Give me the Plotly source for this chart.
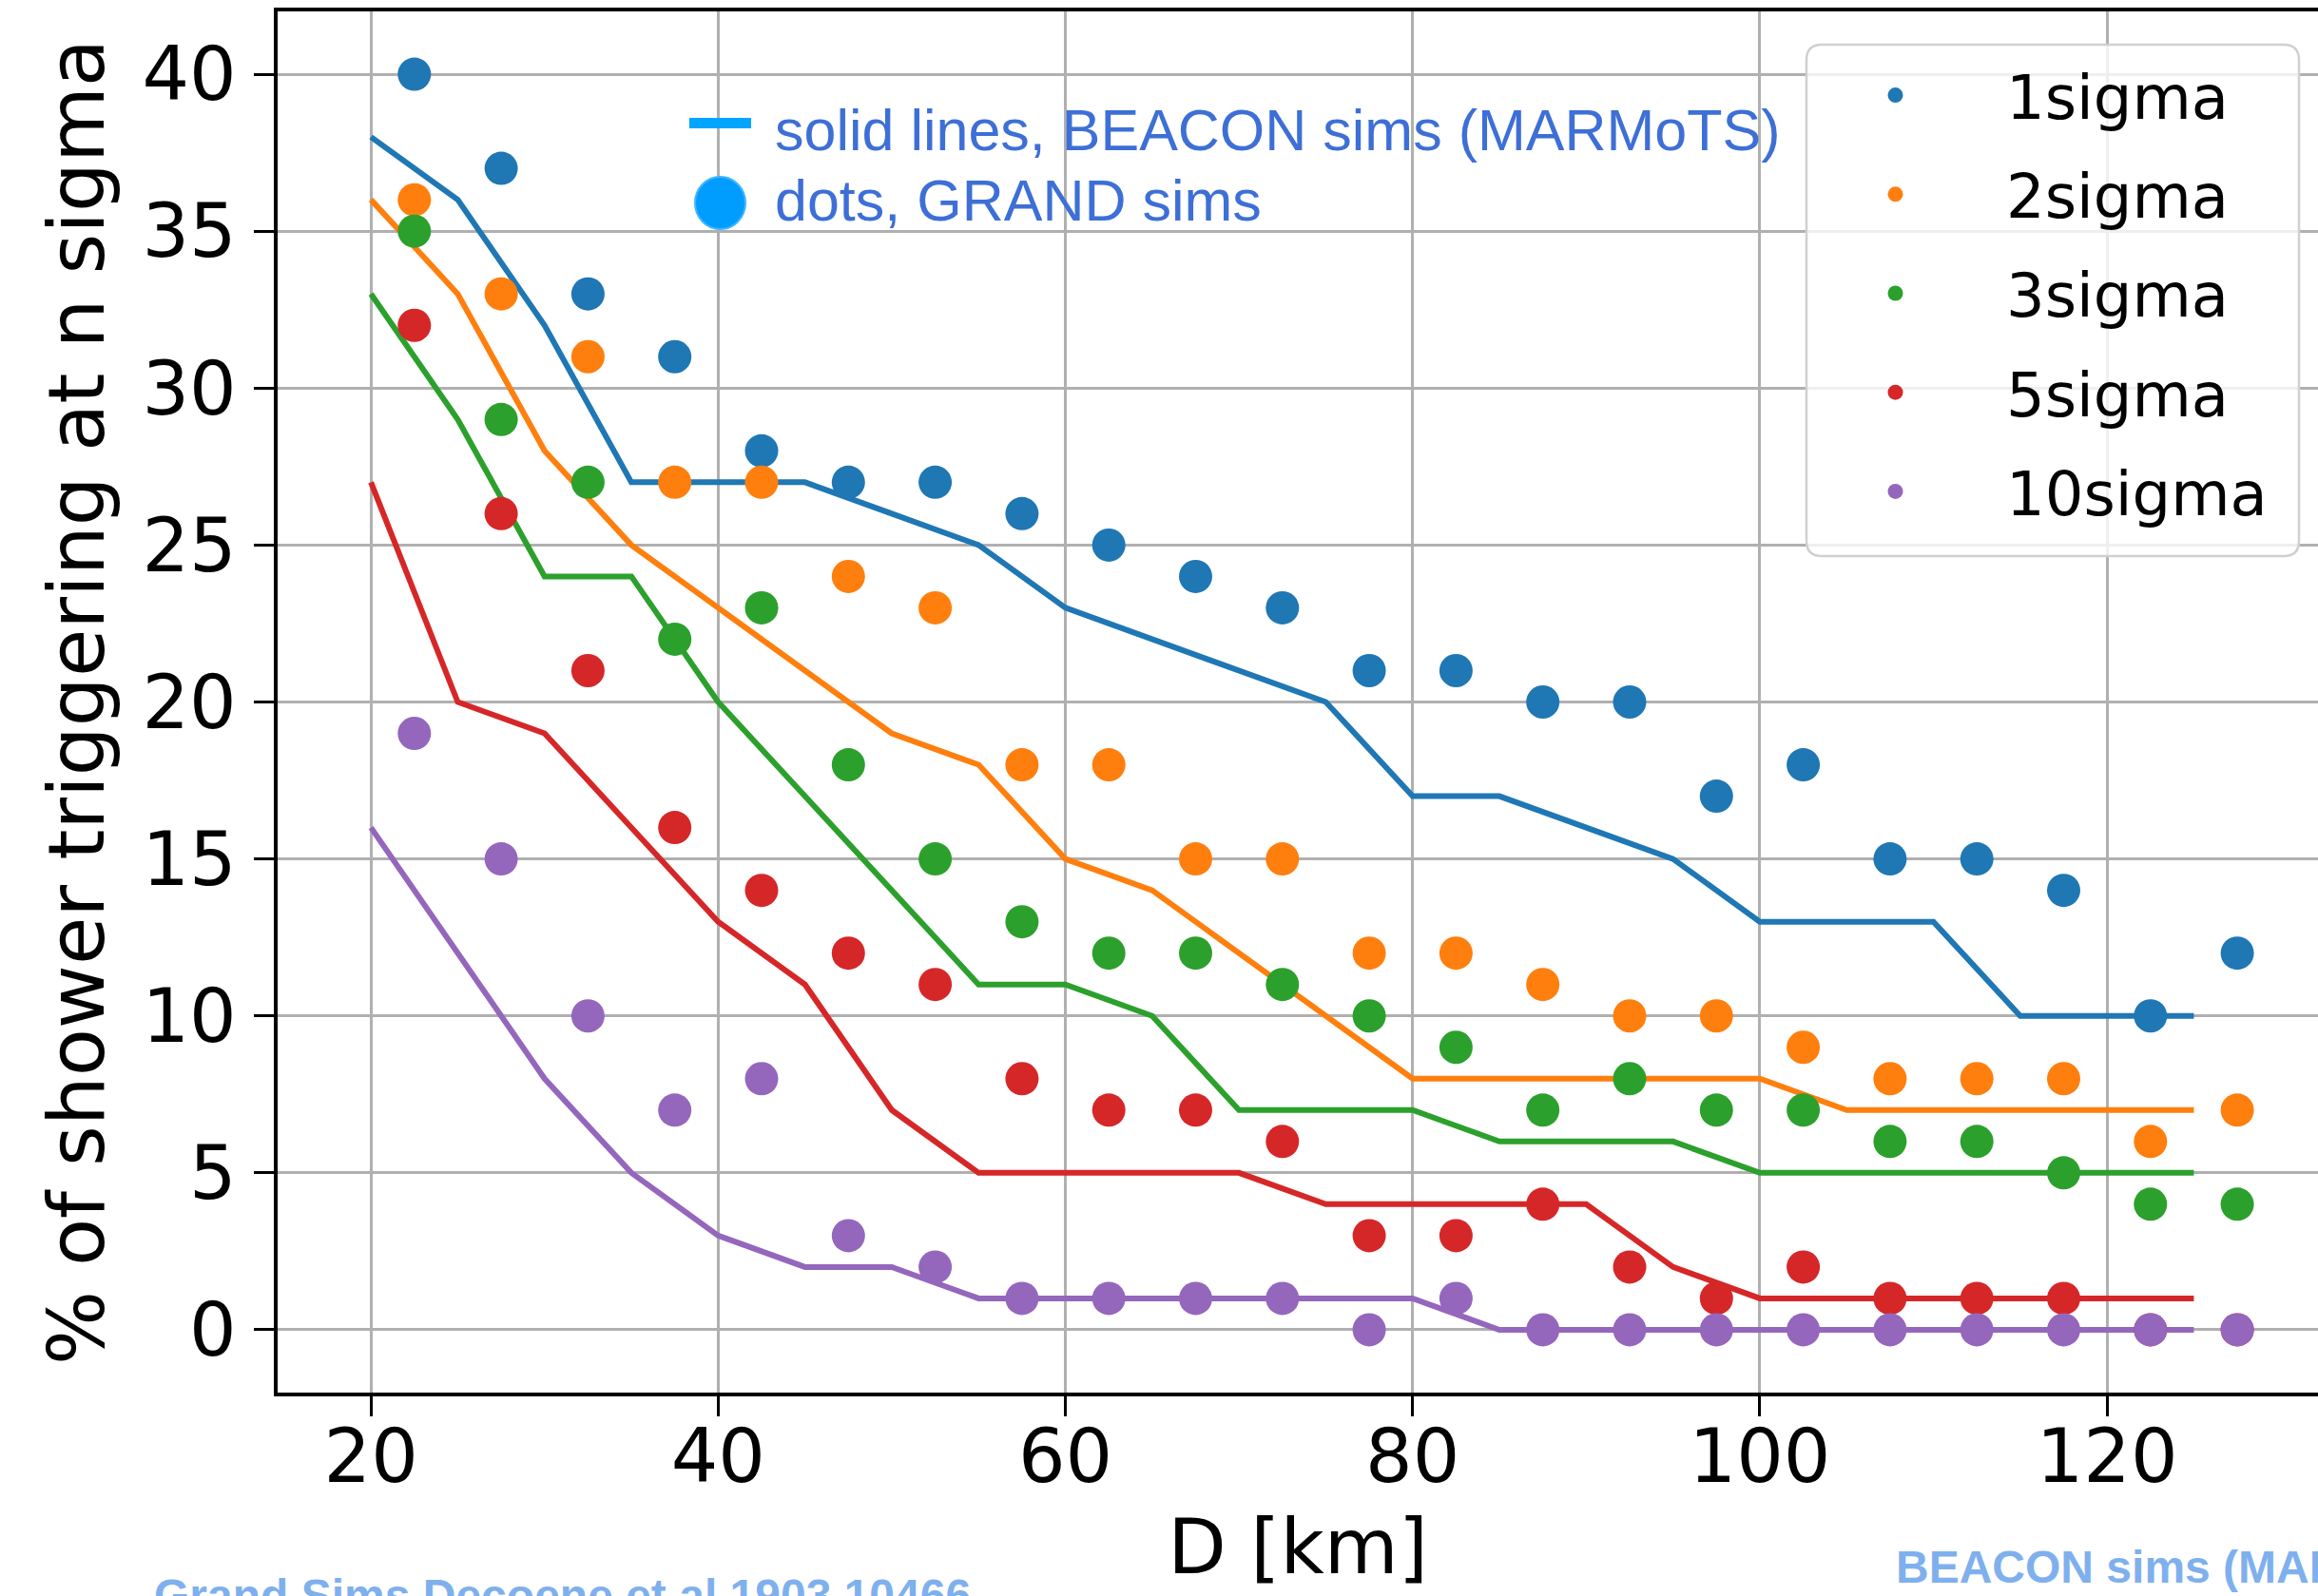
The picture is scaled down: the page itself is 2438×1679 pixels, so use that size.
import plotly.graph_objects as go

# ---------------- data ----------------
D_dots = [22.5, 27.5, 32.5, 37.5, 42.5, 47.5, 52.5, 57.5, 62.5, 67.5, 72.5,
          77.5, 82.5, 87.5, 92.5, 97.5, 102.5, 107.5, 112.5, 117.5, 122.5, 127.5]
D_lines = [20, 25, 30, 35, 40, 45, 50, 55, 60, 65, 70,
           75, 80, 85, 90, 95, 100, 105, 110, 115, 120, 125]

series_names = ["1sigma", "2sigma", "3sigma", "5sigma", "10sigma"]
series_colors = ["#1f77b4", "#ff7f0e", "#2ca02c", "#d62728", "#9467bd"]

# GRAND sims (dots)
grand_1sigma = [40, 37, 33, 31, 28, 27, 27, 26, 25, 24, 23, 21, 21, 20, 20, 17, 18, 15, 15, 14, 10, 12]
grand_2sigma = [36, 33, 31, 27, 27, 24, 23, 18, 18, 15, 15, 12, 12, 11, 10, 10, 9, 8, 8, 8, 6, 7]
grand_3sigma = [35, 29, 27, 22, 23, 18, 15, 13, 12, 12, 11, 10, 9, 7, 8, 7, 7, 6, 6, 5, 4, 4]
grand_5sigma = [32, 26, 21, 16, 14, 12, 11, 8, 7, 7, 6, 3, 3, 4, 2, 1, 2, 1, 1, 1, 0, 0]
grand_10sigma = [19, 15, 10, 7, 8, 3, 2, 1, 1, 1, 1, 0, 1, 0, 0, 0, 0, 0, 0, 0, 0, 0]

# BEACON sims (MARMoTS) (solid lines)
beacon_1sigma = [38, 36, 32, 27, 27, 27, 26, 25, 23, 22, 21, 20, 17, 17, 16, 15, 13, 13, 13, 10, 10, 10]
beacon_2sigma = [36, 33, 28, 25, 23, 21, 19, 18, 15, 14, 12, 10, 8, 8, 8, 8, 8, 7, 7, 7, 7, 7]
beacon_3sigma = [33, 29, 24, 24, 20, 17, 14, 11, 11, 10, 7, 7, 7, 6, 6, 6, 5, 5, 5, 5, 5, 5]
beacon_5sigma = [27, 20, 19, 16, 13, 11, 7, 5, 5, 5, 5, 4, 4, 4, 4, 2, 1, 1, 1, 1, 1, 1]
beacon_10sigma = [16, 12, 8, 5, 3, 2, 2, 1, 1, 1, 1, 1, 1, 0, 0, 0, 0, 0, 0, 0, 0, 0]

grand = [grand_1sigma, grand_2sigma, grand_3sigma, grand_5sigma, grand_10sigma]
beacon = [beacon_1sigma, beacon_2sigma, beacon_3sigma, beacon_5sigma, beacon_10sigma]

x_ticks = [20, 40, 60, 80, 100, 120]
y_ticks = [0, 5, 10, 15, 20, 25, 30, 35, 40]

# ---------------- layout geometry (pixels) ----------------
W, H = 2438, 1679
L, R, T, B = 292, 0, 12, 214
PW, PH = W - L - R, H - T - B


def px(x):
    return (x - L) / PW


def py(y):
    return (H - B - y) / PH


fig = go.Figure()

for name, col, ys in zip(series_names, series_colors, beacon):
    fig.add_trace(go.Scatter(x=D_lines, y=ys, mode="lines", name=name + " (BEACON)",
                             line=dict(color=col, width=6), showlegend=False,
                             hoverinfo="skip"))

for i, (name, col, ys) in enumerate(zip(series_names, series_colors, grand)):
    fig.add_trace(go.Scatter(x=D_dots, y=ys, mode="markers", name=name,
                             marker=dict(color=col, size=35, line=dict(width=0)),
                             legendgroup="g%d" % i))

tick_font = dict(family="DejaVu Sans", size=78, color="black")

fig.update_xaxes(range=[14.625, 132.15], tickvals=x_ticks, ticktext=[str(v) for v in x_ticks],
                 showgrid=True, gridcolor="#b0b0b0", gridwidth=2.5,
                 showline=True, linecolor="black", linewidth=3.5, mirror=True,
                 ticks="outside", ticklen=21, tickwidth=3, tickcolor="black",
                 tickfont=tick_font, zeroline=False, ticklabelstandoff=-24,
                 title=dict(text="D [km]", font=dict(family="DejaVu Sans", size=80, color="black"),
                            standoff=24))
fig.update_yaxes(range=[-2, 42], tickvals=y_ticks, ticktext=[str(v) for v in y_ticks],
                 showgrid=True, gridcolor="#b0b0b0", gridwidth=2.5,
                 showline=True, linecolor="black", linewidth=3.5, mirror=False,
                 ticks="outside", ticklen=21, tickwidth=3, tickcolor="black",
                 tickfont=tick_font, zeroline=False, ticklabelstandoff=3,
                 title=dict(text="% of shower triggering at n sigma",
                            font=dict(family="DejaVu Sans", size=82, color="black"),
                            standoff=14))

# legend frame (rounded box) drawn as a shape
bx0, bx1, by0, by1 = px(1900), px(2418), py(585), py(47)
rx, ry = 16 / PW, 16 / PH
path = (f"M {bx0+rx},{by1} L {bx1-rx},{by1} Q {bx1},{by1} {bx1},{by1-ry} "
        f"L {bx1},{by0+ry} Q {bx1},{by0} {bx1-rx},{by0} L {bx0+rx},{by0} "
        f"Q {bx0},{by0} {bx0},{by0+ry} L {bx0},{by1-ry} Q {bx0},{by1} {bx0+rx},{by1} Z")
shapes = [
    dict(type="path", xref="paper", yref="paper", path=path,
         fillcolor="rgba(255,255,255,0.8)", line=dict(color="#d0d0d0", width=2.5), layer="above"),
    # key: solid line sample
    dict(type="rect", xref="paper", yref="paper", x0=px(725), x1=px(790), y0=py(135), y1=py(124),
         fillcolor="#00a5ff", line=dict(width=0), layer="above"),
    # key: dot sample
    dict(type="circle", xref="paper", yref="paper", x0=px(731), x1=px(784), y0=py(241), y1=py(186),
         fillcolor="#009dff", line=dict(color="#3fb6ff", width=2), layer="above"),
]

ann_font = dict(family="Liberation Sans, Arial, sans-serif", size=61, color="#3d6fd6")
foot_family = "Liberation Sans, Arial, sans-serif"
annotations = [
    dict(text="solid lines, BEACON sims (MARMoTS)", x=px(813), y=py(137), xref="paper", yref="paper",
         xanchor="left", yanchor="middle", showarrow=False, font=ann_font),
    dict(text="dots, GRAND sims", x=px(813), y=py(211), xref="paper", yref="paper",
         xanchor="left", yanchor="middle", showarrow=False, font=ann_font),
    dict(text="<b>Grand Sims Decoene et al 1903.10466</b>", x=px(160), y=py(1678), xref="paper",
         yref="paper", xanchor="left", yanchor="middle", showarrow=False,
         font=dict(family=foot_family, size=48, color="#7fb0ee")),
    dict(text="<b>BEACON sims (MARMoTS)</b>", x=px(1992), y=py(1648), xref="paper",
         yref="paper", xanchor="left", yanchor="middle", showarrow=False,
         font=dict(family=foot_family, size=48, color="#7fb0ee")),
]

fig.update_layout(
    width=W, height=H,
    margin=dict(l=L, r=R, t=T, b=B, pad=0),
    paper_bgcolor="white", plot_bgcolor="white",
    shapes=shapes, annotations=annotations,
    legend=dict(x=px(1877), y=py(52), xanchor="left", yanchor="top",
                bgcolor="rgba(0,0,0,0)", borderwidth=0,
                font=dict(family="DejaVu Sans", size=64, color="black"),
                itemwidth=223, tracegroupgap=18, traceorder="grouped",
                itemsizing="trace"),
    showlegend=True,
)

fig.write_html("out.html")
